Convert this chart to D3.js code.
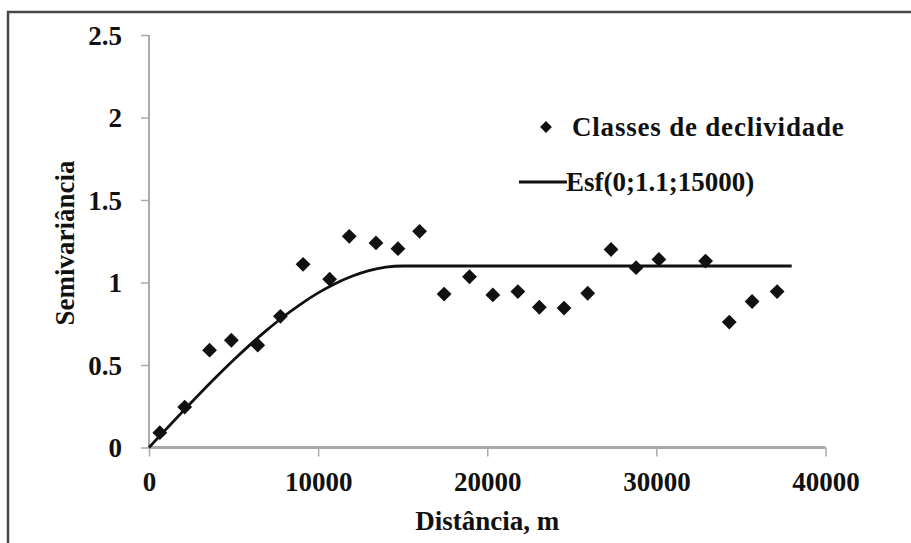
<!DOCTYPE html>
<html>
<head>
<meta charset="utf-8">
<script src="https://cdn.jsdelivr.net/npm/d3@7"></script>
<style>
    body { margin: 0; background: #fff; }
    svg text { font-family: "Liberation Serif", "Times New Roman", serif; font-weight: bold; fill: #111; }
</style>
</head>
<body>
<svg id="chart"></svg>
<script>
// observed semivariance (classes de declividade)
const distances = [640, 2110, 3580, 4870, 6430, 7770, 9110, 10680, 11840, 13420, 14720, 16000,
    17450, 18950, 20330, 21810, 23080, 24540, 25940, 27320, 28800, 30150, 32910, 34310, 35660, 37140];
const semivar = [0.09, 0.245, 0.59, 0.65, 0.62, 0.795, 1.11, 1.02, 1.28, 1.24, 1.205, 1.31,
    0.93, 1.035, 0.925, 0.945, 0.85, 0.845, 0.935, 1.2, 1.09, 1.14, 1.13, 0.76, 0.885, 0.945];

// spherical model Esf(0;1.1;15000)
const modelDist = [0, 1000, 2000, 3000, 4000, 5000, 6000, 7000, 8000, 9000, 10000,
    11000, 12000, 13000, 14000, 15000, 38000];
const modelVal = [0, 0.11, 0.219, 0.326, 0.43, 0.53, 0.625, 0.714, 0.797, 0.871, 0.937,
    0.993, 1.038, 1.072, 1.093, 1.1, 1.1];

const xTicks = [0, 10000, 20000, 30000, 40000];
const yTicks = [0, 0.5, 1, 1.5, 2, 2.5];
const legendLabels = ["Classes de declividade", "Esf(0;1.1;15000)"];

const width = 911;
const height = 543;
const fontSize = 27;

let svg = d3.select("#chart")
    .attr("width", width)
    .attr("height", height);

// outer frame (runs off the right and bottom edge)
svg.append("rect")
    .attr("x", 8)
    .attr("y", 12)
    .attr("width", 960)
    .attr("height", 600)
    .attr("fill", "none")
    .attr("stroke", "#474747")
    .attr("stroke-width", 2.5);

const x = d3.scaleLinear()
    .domain([0, 40000])
    .range([149, 825.5]);

const y = d3.scaleLinear()
    .domain([0, 2.5])
    .range([447.5, 35]);

// y axis
let yAxis = svg.append("g")
    .attr("transform", `translate(${x(0)},0)`)
    .call(d3.axisLeft(y).tickValues(yTicks).tickSize(8).tickPadding(19)
        .tickFormat(d => d));
yAxis.select(".domain").attr("stroke", "#aaa").attr("stroke-width", 2)
    .attr("d", `M0,${y(2.5)}V${y(0)}`);
yAxis.selectAll(".tick line").attr("stroke", "#aaa").attr("stroke-width", 1.5);
yAxis.selectAll(".tick text").attr("font-size", fontSize).attr("dy", "0.34em");

// x axis
let xAxis = svg.append("g")
    .attr("transform", `translate(0,${y(0)})`)
    .call(d3.axisBottom(x).tickValues(xTicks).tickSize(9).tickPadding(18)
        .tickFormat(d => d));
xAxis.select(".domain").attr("stroke", "#a8a8a8").attr("stroke-width", 3)
    .attr("d", `M${x(0)},0H${x(40000)}`);
xAxis.selectAll(".tick line").attr("stroke", "#aaa").attr("stroke-width", 1.5);
xAxis.selectAll(".tick text").attr("font-size", fontSize).attr("dy", "0.6em");

svg.selectAll(".tick text").style("font-family", "Liberation Serif").style("font-weight", "bold")
    .attr("fill", "#111");

// axis titles
svg.append("text")
    .attr("x", (x(0) + x(40000)) / 2)
    .attr("y", 530)
    .attr("text-anchor", "middle")
    .attr("font-size", fontSize)
    .text("Distância, m");

svg.append("text")
    .attr("transform", `translate(74,${243}) rotate(-90)`)
    .attr("text-anchor", "middle")
    .attr("font-size", fontSize)
    .text("Semivariância");

// model line
const line = d3.line()
    .curve(d3.curveMonotoneX)
    .x((d, i) => x(modelDist[i]))
    .y(d => y(d));

svg.append("path")
    .attr("d", line(modelVal))
    .attr("fill", "none")
    .attr("stroke", "#111")
    .attr("stroke-width", 2.8);

// points
const diamond = d3.symbol().type(d3.symbolSquare).size(110);

svg.append("g")
    .selectAll("path")
    .data(semivar)
    .join("path")
    .attr("d", diamond)
    .attr("transform", (d, i) => `translate(${x(distances[i])},${y(d)}) rotate(45)`)
    .attr("fill", "#111");

// legend
let legend = svg.append("g");
legend.append("path")
    .attr("d", d3.symbol().type(d3.symbolSquare).size(70))
    .attr("transform", "translate(546,127) rotate(45)")
    .attr("fill", "#111");
legend.append("text")
    .attr("x", 572)
    .attr("y", 136)
    .attr("font-size", fontSize)
    .attr("letter-spacing", 0.8)
    .text(legendLabels[0]);
legend.append("line")
    .attr("x1", 519)
    .attr("x2", 567)
    .attr("y1", 182)
    .attr("y2", 182)
    .attr("stroke", "#111")
    .attr("stroke-width", 3);
legend.append("text")
    .attr("x", 566)
    .attr("y", 191)
    .attr("font-size", fontSize)
    .text(legendLabels[1]);
</script>
</body>
</html>
